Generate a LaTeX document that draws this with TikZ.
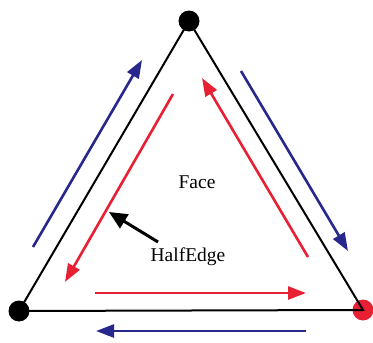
\documentclass[tikz,border=0pt]{standalone}
\usepackage{fontspec}
\setmainfont{Liberation Serif}
\usetikzlibrary{arrows.meta}
\definecolor{navy}{RGB}{40,40,140}
\definecolor{hered}{RGB}{232,32,52}
\begin{document}
\begin{tikzpicture}[x=1pt,y=-1pt,
  vertex/.style={circle,inner sep=0pt,minimum size=21pt},
  edgeline/.style={line width=2pt,black},
  blueedge/.style={line width=2.6pt,navy,-{Triangle[length=18pt,width=13pt]}},
  rededge/.style={line width=2.6pt,hered,-{Triangle[length=18pt,width=13pt]}},
  pointer/.style={line width=3pt,black,-{Triangle[length=18pt,width=16pt]}},
  label/.style={font=\fontsize{19.5}{22}\selectfont,inner sep=0pt}]
\useasboundingbox (0,0) rectangle (373,343);
\node[vertex,fill=black] (top) at (189,21) {};
\node[vertex,fill=black] (bl) at (19,311) {};
\node[vertex,fill=hered] (br) at (363,310) {};
\draw[edgeline] (top.center) -- (bl.center) -- (br.center) -- cycle;
% outer blue half-edges
\coordinate (b1s) at (33,247); \coordinate (b1e) at (142,60);
\coordinate (b2s) at (241,71); \coordinate (b2e) at (348,251);
\coordinate (b3s) at (306,331); \coordinate (b3e) at (96,331);
\draw[blueedge] (b1s) -- (b1e);
\draw[blueedge] (b2s) -- (b2e);
\draw[blueedge] (b3s) -- (b3e);
% inner red half-edges
\coordinate (r1s) at (173,94); \coordinate (r1e) at (65,282);
\coordinate (r2s) at (95,293); \coordinate (r2e) at (306,293);
\coordinate (r3s) at (308,257); \coordinate (r3e) at (202,78);
\draw[rededge] (r1s) -- (r1e);
\draw[rededge] (r2s) -- (r2e);
\draw[rededge] (r3s) -- (r3e);
% labels
\node[label] (face) at (197,182) {Face};
\node[label] (he) at (188,257) {HalfEdge};
\coordinate (ptail) at (158,242);
\coordinate (ptip) at (109,212);
\draw[pointer] (ptail) -- (ptip);
\end{tikzpicture}
\end{document}
